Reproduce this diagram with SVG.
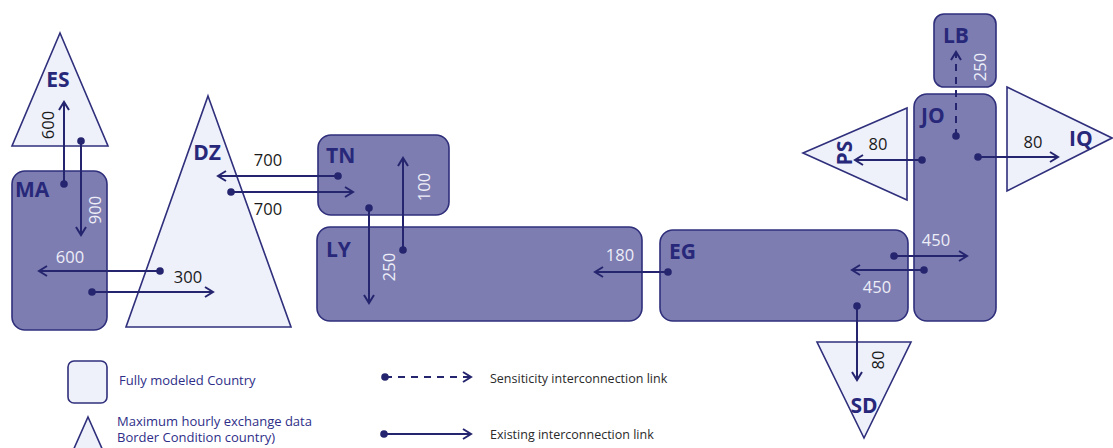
<svg xmlns="http://www.w3.org/2000/svg" width="1113" height="448" viewBox="0 0 1113 448">
  <style>
    .full { fill: #7d7db1; stroke: #2f2f7c; stroke-width: 1.6; }
    .border { fill: #eef0fa; stroke: #2f2f7c; stroke-width: 1.6; }
    .cname { font-family: "Open Sans", "Liberation Sans", sans-serif; font-weight: 700; font-size: 21px; fill: #28287a; }
    .num { font-family: "Open Sans", "Liberation Sans", sans-serif; font-size: 16.5px; }
    .w { fill: #eeeef8; }
    .b { fill: #1a1a1a; }
    .link { stroke: #25256f; stroke-width: 2; fill: none; marker-start: url(#dot); marker-end: url(#arr); }
    .dash { stroke-dasharray: 7 6; }
    .leg { font-family: "Open Sans", "Liberation Sans", sans-serif; font-size: 12.5px; }
    .legb { fill: #2e2e88; font-size: 13px; }
    .legk { fill: #2a2a2a; }
  </style>
  <defs>
    <marker id="arr" markerUnits="userSpaceOnUse" markerWidth="14" markerHeight="14" refX="10" refY="6" orient="auto">
      <path d="M2,1 L10,6 L2,11" fill="none" stroke="#25256f" stroke-width="2"/>
    </marker>
    <marker id="dot" markerUnits="userSpaceOnUse" markerWidth="10" markerHeight="10" refX="5" refY="5" orient="auto">
      <circle cx="5" cy="5" r="3.8" fill="#25256f"/>
    </marker>
  </defs>

  <g id="ES">
    <polygon class="border" points="60,33 108,146 12,146"/>
    <text class="cname" x="58" y="87" text-anchor="middle">ES</text>
  </g>
  <g id="MA">
    <rect class="full" x="12" y="171" width="95" height="159" rx="13"/>
    <text class="cname" x="15" y="197">MA</text>
  </g>
  <g id="DZ">
    <polygon class="border" points="208,96 291,327 126,327"/>
    <text class="cname" x="207" y="160" text-anchor="middle">DZ</text>
  </g>
  <g id="TN">
    <rect class="full" x="318" y="135" width="131" height="80" rx="13"/>
    <text class="cname" x="326" y="163">TN</text>
  </g>
  <g id="LY">
    <rect class="full" x="317" y="227" width="325" height="94" rx="13"/>
    <text class="cname" x="326" y="257">LY</text>
  </g>
  <g id="EG">
    <rect class="full" x="660" y="230" width="248" height="91" rx="13"/>
    <text class="cname" x="669" y="259">EG</text>
  </g>
  <g id="LB">
    <rect class="full" x="934" y="14" width="62" height="73" rx="10"/>
    <text class="cname" x="943" y="43">LB</text>
  </g>
  <g id="JO">
    <rect class="full" x="914" y="94" width="82" height="227" rx="13"/>
    <text class="cname" x="921" y="123">JO</text>
  </g>
  <g id="PS">
    <polygon class="border" points="803,153 907,108 907,200"/>
    <text class="cname" transform="translate(852,153) rotate(-90)" text-anchor="middle">PS</text>
  </g>
  <g id="IQ">
    <polygon class="border" points="1007,87 1112,138 1007,191"/>
    <text class="cname" x="1069" y="146">IQ</text>
  </g>
  <g id="SD">
    <polygon class="border" points="817,342 911,342 864,438"/>
    <text class="cname" x="864" y="413" text-anchor="middle">SD</text>
  </g>

  <g id="connectors">
    <line class="link" x1="64" y1="184" x2="64" y2="102"/>
    <line class="link" x1="81" y1="141" x2="81" y2="235"/>
    <line class="link" x1="160" y1="271" x2="39" y2="271"/>
    <line class="link" x1="92" y1="292" x2="213" y2="292"/>
    <line class="link" x1="338" y1="176" x2="218" y2="176"/>
    <line class="link" x1="231" y1="192" x2="353" y2="192"/>
    <line class="link" x1="369" y1="208" x2="369" y2="303"/>
    <line class="link" x1="403" y1="250" x2="403" y2="158"/>
    <line class="link" x1="668" y1="272" x2="595" y2="272"/>
    <line class="link" x1="894" y1="256" x2="967" y2="256"/>
    <line class="link" x1="924" y1="270" x2="852" y2="270"/>
    <line class="link" x1="857" y1="306" x2="857" y2="380"/>
    <line class="link dash" x1="956" y1="136" x2="956" y2="52"/>
    <line class="link" x1="922" y1="160" x2="855" y2="160"/>
    <line class="link" x1="978" y1="157" x2="1058" y2="157"/>
  </g>

  <g id="labels">
    <text class="num b" transform="translate(48,125) rotate(-90)" text-anchor="middle" dy="0.35em">600</text>
    <text class="num w" transform="translate(95,210) rotate(-90)" text-anchor="middle" dy="0.35em">900</text>
    <text class="num w" x="70" y="263" text-anchor="middle">600</text>
    <text class="num b" x="188" y="283" text-anchor="middle">300</text>
    <text class="num b" x="268" y="166" text-anchor="middle">700</text>
    <text class="num b" x="268" y="215" text-anchor="middle">700</text>
    <text class="num w" transform="translate(389,267) rotate(-90)" text-anchor="middle" dy="0.35em">250</text>
    <text class="num w" transform="translate(424,187) rotate(-90)" text-anchor="middle" dy="0.35em">100</text>
    <text class="num w" x="620" y="261" text-anchor="middle">180</text>
    <text class="num w" x="936" y="246" text-anchor="middle">450</text>
    <text class="num w" x="877" y="293" text-anchor="middle">450</text>
    <text class="num b" transform="translate(878,360) rotate(-90)" text-anchor="middle" dy="0.35em">80</text>
    <text class="num w" transform="translate(980,67) rotate(-90)" text-anchor="middle" dy="0.35em">250</text>
    <text class="num b" x="878" y="150" text-anchor="middle">80</text>
    <text class="num b" x="1033" y="148" text-anchor="middle">80</text>
  </g>

  <g id="legend">
    <rect class="border" x="68" y="361" width="39" height="42" rx="6"/>
    <text class="leg legb" x="119" y="385">Fully modeled Country</text>
    <polygon class="border" points="88,417 108,462 68,462"/>
    <text class="leg legb" x="117" y="426">Maximum hourly exchange data</text>
    <text class="leg legb" x="117" y="442">Border Condition country)</text>
    <line class="link dash" x1="385" y1="377" x2="471" y2="377"/>
    <text class="leg legk" x="490" y="383">Sensiticity interconnection link</text>
    <line class="link" x1="384" y1="434" x2="471" y2="434"/>
    <text class="leg legk" x="490" y="439">Existing interconnection link</text>
  </g>
</svg>
